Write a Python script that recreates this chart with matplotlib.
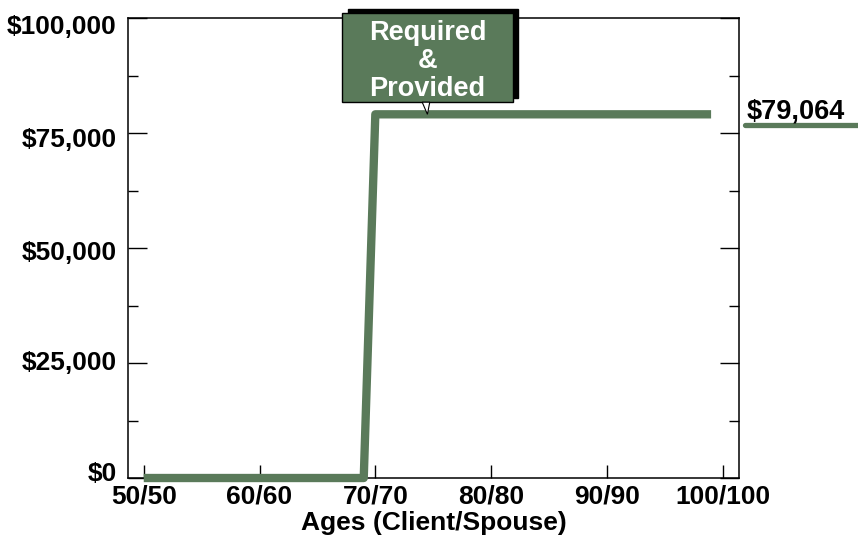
import matplotlib.pyplot as plt
import matplotlib.patches as mpatches
import matplotlib.transforms as mtransforms
from matplotlib.ticker import MultipleLocator, FuncFormatter

plt.rcParams['font.family'] = ['Liberation Sans', 'DejaVu Sans']
plt.rcParams['font.weight'] = 'bold'

# data: income required & provided by age (client/spouse)
ages = [50, 69, 70, 99]
income = [0, 0, 79064, 79064]
tick_ages = [50, 60, 70, 80, 90, 100]
y_ticks = [0, 25000, 50000, 75000, 100000]
callout_age = 74.5
callout_text = 'Required\n&\nProvided'

green = '#5a7a5a'

fig, ax = plt.subplots(figsize=(8.58, 5.36), dpi=100)
plt.subplots_adjust(left=0.1492, right=0.8613, top=0.9664, bottom=0.1082)

ax.plot(ages, income, color=green, lw=6, solid_capstyle='butt',
        solid_joinstyle='round', clip_on=False, zorder=3)

ax.set_xlim(48.64, 101.41)
ax.set_ylim(0, 100000)

ax.set_xticks(tick_ages)
ax.set_xticklabels([f'{a}/{a}' for a in tick_ages])
ax.set_yticks(y_ticks)
ax.yaxis.set_minor_locator(MultipleLocator(12500))
ax.yaxis.set_major_formatter(FuncFormatter(lambda v, p: f'${v:,.0f}'))

ax.tick_params(axis='x', direction='in', length=9.4, width=1, pad=5,
               labelsize=19, top=False)
ax.tick_params(axis='y', which='major', direction='in', length=13.7,
               width=1, pad=8, labelsize=19, right=True)
ax.tick_params(axis='y', which='minor', direction='in', length=7.2,
               width=1, right=True)
for s in ax.spines.values():
    s.set_linewidth(1.1)

# y labels sit slightly pulled toward the middle of the axis
label_shift = [5, 2, -2, -3.5, -5]  # points, bottom to top
for lab, dy in zip(ax.get_yticklabels(), label_shift):
    lab.set_transform(lab.get_transform() +
                      mtransforms.ScaledTranslation(0, dy / 72, fig.dpi_scale_trans))

ax.set_xlabel('Ages (Client/Spouse)', fontsize=19, fontweight='bold',
              labelpad=1.5)

# callout box above the line
box_w = 14.7
box_y0, box_y1 = 81700, 101100
shadow = mpatches.Rectangle((callout_age - box_w / 2 + 0.48, box_y0 + 900),
                            box_w, box_y1 - box_y0, facecolor='black',
                            edgecolor='black', clip_on=False, zorder=4)
box = mpatches.Rectangle((callout_age - box_w / 2, box_y0), box_w,
                         box_y1 - box_y0, facecolor=green, edgecolor='black',
                         lw=1, clip_on=False, zorder=5)
ax.add_patch(shadow)
ax.add_patch(box)
pointer = mpatches.Polygon([(callout_age - 0.45, box_y0), (callout_age + 0.2, box_y0),
                            (callout_age, income[-1])],
                           closed=True, facecolor='white', edgecolor='black',
                           lw=0.8, clip_on=False, zorder=5)
ax.add_patch(pointer)
ax.text(callout_age, (box_y0 + box_y1) / 2 - 700, callout_text, color='white',
        fontsize=19.5, ha='center', va='center', linespacing=1.1, zorder=6)

# value label to the right of the axes
blend = mtransforms.blended_transform_factory(ax.transAxes, ax.transData)
ax.annotate(f'${income[-1]:,.0f}', xy=(1.013, income[-1]), xycoords=blend,
            xytext=(0, 2), textcoords='offset points', fontsize=19.5,
            ha='left', va='center', annotation_clip=False)
under = mtransforms.offset_copy(blend, fig=fig, y=-8, units='points')
ax.plot([1.01, 1.25], [income[-1], income[-1]], color=green, lw=3.8,
        solid_capstyle='round', transform=under, clip_on=False)

plt.savefig('out.png', dpi=100)
